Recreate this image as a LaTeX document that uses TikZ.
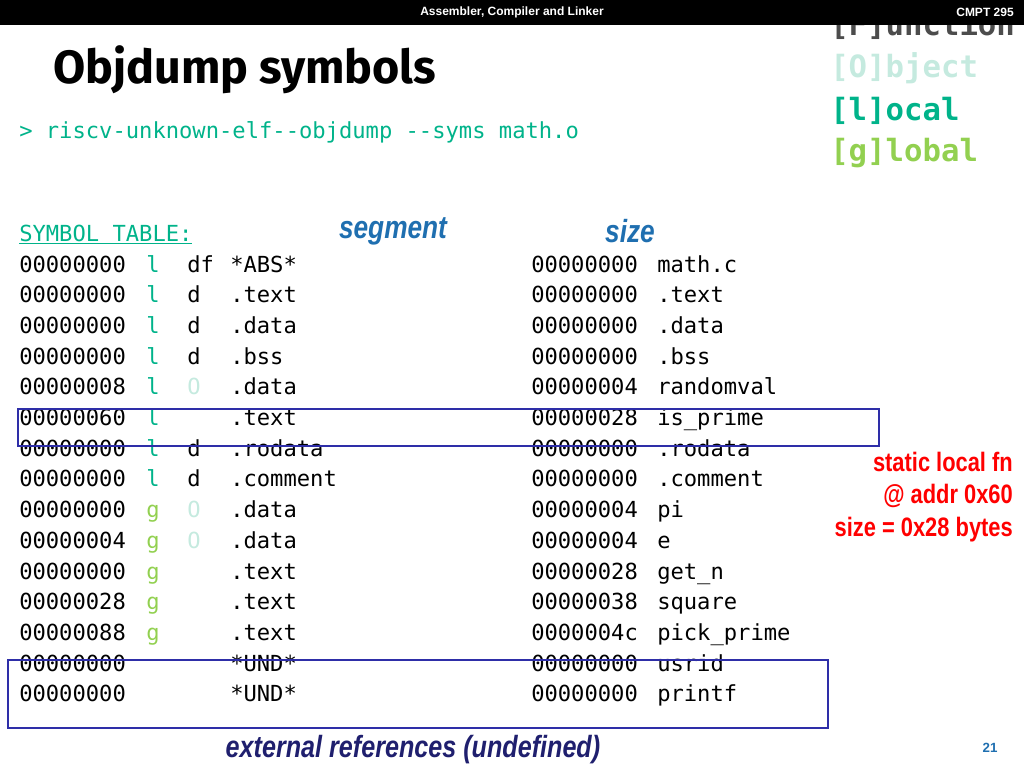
\documentclass[tikz,border=0pt]{standalone}
\usepackage{fontspec}
\setmainfont{Liberation Sans}
\setmonofont{DejaVu Sans Mono}
\newfontfamily\titlefont{Fira Sans}
\definecolor{tealc}{HTML}{00B38A}
\definecolor{greenc}{HTML}{92D050}
\definecolor{mintc}{HTML}{C5EADF}
\definecolor{segblue}{HTML}{1F6FB0}
\definecolor{boxblue}{HTML}{2E2EA8}
\definecolor{navyc}{HTML}{1F1F6E}
\tikzset{
  mono/.style={anchor=base west, inner sep=0pt, font=\ttfamily\fontsize{16.6}{18}\selectfont},
  legend/.style={anchor=west, inner sep=0pt, font=\ttfamily\bfseries\fontsize{23}{25}\selectfont},
  tag/.style={inner sep=0pt, font=\bfseries\itshape\fontsize{24}{26}\selectfont, xscale=0.82, transform shape},
  note/.style={anchor=east, inner sep=0pt, text=red, font=\bfseries\fontsize{20}{22}\selectfont, xscale=0.82, transform shape},
  markbox/.style={draw=boxblue, line width=1.4pt}
}
\begin{document}
\begin{tikzpicture}[x=0.75pt, y=-0.75pt]
  \useasboundingbox (0,0) rectangle (1024,768);

  % legend
  \node[legend, text=black!70] (fn) at (830,25) {[F]unction};
  \fill[black] (0,0) rectangle (1024,25);
  \node[inner sep=0pt, text=white, font=\bfseries\fontsize{9}{10}\selectfont] (course) at (512,12) {Assembler, Compiler and Linker};
  \node[inner sep=0pt, text=white, font=\bfseries\fontsize{9}{10}\selectfont] (cmpt) at (985,12) {CMPT 295};
  \node[legend, text=mintc] (obj) at (830,68) {[O]bject};
  \node[legend, text=tealc] (loc) at (830,111) {[l]ocal};
  \node[legend, text=greenc] (glob) at (830,153) {[g]lobal};

  % title and command
  \node[anchor=west, inner sep=0pt, font=\titlefont\bfseries\fontsize{35}{38}\selectfont] (title) at (53,70) {Objdump symbols};
  \node[mono, text=tealc] (cmd) at (19,138) {> riscv-unknown-elf--objdump --syms math.o};

  % table
  \node[mono, text=tealc] (hdr) at (19,241) {\underline{SYMBOL TABLE:}};
  \node[tag, text=segblue] (seg) at (393,231) {segment};
  \node[tag, text=segblue] (size) at (630,231) {size};

  \foreach \a/\f/\c/\t/\tc/\k/\s/\n [count=\i from 0] in {
      00000000/l/tealc/df/black/*ABS*/00000000/math.c,
      00000000/l/tealc/d/black/.text/00000000/.text,
      00000000/l/tealc/d/black/.data/00000000/.data,
      00000000/l/tealc/d/black/.bss/00000000/.bss,
      00000008/l/tealc/O/mintc/.data/00000004/randomval,
      00000060/l/tealc/{}/black/.text/00000028/is\_prime,
      00000000/l/tealc/d/black/.rodata/00000000/.rodata,
      00000000/l/tealc/d/black/.comment/00000000/.comment,
      00000000/g/greenc/O/mintc/.data/00000004/pi,
      00000004/g/greenc/O/mintc/.data/00000004/e,
      00000000/g/greenc/{}/black/.text/00000028/get\_n,
      00000028/g/greenc/{}/black/.text/00000038/square,
      00000088/g/greenc/{}/black/.text/0000004c/pick\_prime,
      00000000/{}/black/{}/black/*UND*/00000000/usrid,
      00000000/{}/black/{}/black/*UND*/00000000/printf} {
    \node[mono] (addr\i) at (19,272+30.7*\i) {\a};
    \node[mono, text=\c] (scope\i) at (146,272+30.7*\i) {\f};
    \node[mono, text=\tc] (type\i) at (187,272+30.7*\i) {\t};
    \node[mono] (sect\i) at (230,272+30.7*\i) {\k};
    \node[mono] (len\i) at (531,272+30.7*\i) {\s};
    \node[mono] (name\i) at (657,272+30.7*\i) {\n};
  }

  % highlights
  \draw[markbox] (18,409) rectangle (879,446);
  \draw[markbox] (8,660) rectangle (828,728);
  \node[note] (n1) at (1013,462) {static local fn};
  \node[note] (n2) at (1013,496) {@ addr 0x60};
  \node[note] (n3) at (1013,530) {size = 0x28 bytes};
  \node[tag, text=navyc, font=\bfseries\itshape\fontsize{23}{25}\selectfont] (ext) at (413,750) {external references (undefined)};
  \node[inner sep=0pt, text=segblue, font=\bfseries\fontsize{10}{11}\selectfont] (page) at (990,748) {21};
\end{tikzpicture}
\end{document}
